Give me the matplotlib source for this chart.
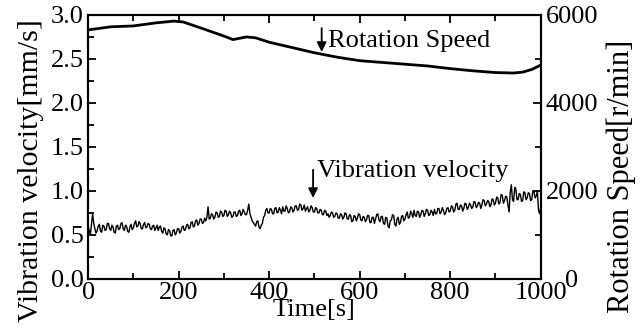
import numpy as np
import matplotlib
matplotlib.use("Agg")
import matplotlib.pyplot as plt
from matplotlib.ticker import MultipleLocator

plt.rcParams["font.family"] = ["Liberation Serif", "DejaVu Serif"]

# rotation speed [r/min]
speed_t = [0, 50, 100, 150, 190, 210, 250, 300, 320, 350, 370, 400, 450, 500,
           550, 600, 650, 700, 750, 800, 850, 900, 940, 960, 980, 1000]
speed = [5660, 5730, 5750, 5820, 5860, 5840, 5700, 5520, 5440, 5500, 5480, 5380,
         5260, 5140, 5040, 4960, 4920, 4880, 4840, 4780, 4730, 4690, 4680, 4700,
         4760, 4860]

# vibration velocity [mm/s], one reading every 2.5 s
vib_t = np.arange(0, 1000.1, 2.5)
vib = [
    0.60, 0.55, 0.50, 0.62, 0.74, 0.63, 0.57, 0.52, 0.55, 0.60, 0.62, 0.54, 0.53, 0.61, 0.60, 0.55, 0.56, 0.63, 0.63, 0.57,
    0.55, 0.61, 0.59, 0.53, 0.52, 0.60, 0.61, 0.56, 0.57, 0.63, 0.64, 0.57, 0.55, 0.61, 0.60, 0.54, 0.53, 0.59, 0.62, 0.56,
    0.58, 0.63, 0.66, 0.59, 0.60, 0.65, 0.63, 0.57, 0.57, 0.62, 0.64, 0.58, 0.59, 0.63, 0.62, 0.57, 0.56, 0.60, 0.61, 0.55,
    0.58, 0.61, 0.55, 0.59, 0.60, 0.54, 0.52, 0.58, 0.57, 0.51, 0.50, 0.56, 0.55, 0.49, 0.49, 0.55, 0.56, 0.50, 0.52, 0.57,
    0.57, 0.52, 0.54, 0.59, 0.60, 0.55, 0.56, 0.61, 0.62, 0.57, 0.58, 0.64, 0.65, 0.59, 0.60, 0.66, 0.67, 0.61, 0.63, 0.68,
    0.68, 0.63, 0.64, 0.69, 0.66, 0.70, 0.82, 0.68, 0.69, 0.74, 0.73, 0.68, 0.70, 0.76, 0.75, 0.70, 0.71, 0.77, 0.76, 0.71,
    0.72, 0.78, 0.77, 0.71, 0.73, 0.77, 0.75, 0.70, 0.71, 0.76, 0.76, 0.71, 0.72, 0.77, 0.78, 0.72, 0.74, 0.79, 0.76, 0.73,
    0.73, 0.78, 0.85, 0.74, 0.70, 0.66, 0.64, 0.62, 0.60, 0.65, 0.66, 0.59, 0.57, 0.61, 0.63, 0.70, 0.72, 0.78, 0.80, 0.75,
    0.75, 0.80, 0.79, 0.74, 0.74, 0.80, 0.81, 0.75, 0.76, 0.81, 0.78, 0.74, 0.82, 0.77, 0.77, 0.83, 0.80, 0.75, 0.76, 0.82,
    0.81, 0.76, 0.78, 0.83, 0.83, 0.78, 0.79, 0.85, 0.84, 0.78, 0.80, 0.84, 0.77, 0.80, 0.82, 0.76, 0.78, 0.83, 0.81, 0.76,
    0.76, 0.81, 0.80, 0.75, 0.75, 0.79, 0.78, 0.73, 0.73, 0.78, 0.77, 0.72, 0.74, 0.70, 0.72, 0.76, 0.75, 0.70, 0.71, 0.75,
    0.74, 0.69, 0.69, 0.74, 0.73, 0.68, 0.70, 0.75, 0.74, 0.68, 0.68, 0.73, 0.72, 0.65, 0.66, 0.72, 0.71, 0.66, 0.69, 0.74,
    0.73, 0.67, 0.66, 0.71, 0.70, 0.65, 0.67, 0.72, 0.72, 0.64, 0.64, 0.70, 0.70, 0.63, 0.68, 0.73, 0.74, 0.67, 0.65, 0.71,
    0.71, 0.63, 0.62, 0.70, 0.69, 0.60, 0.58, 0.66, 0.67, 0.73, 0.72, 0.62, 0.60, 0.68, 0.70, 0.62, 0.64, 0.71, 0.72, 0.66,
    0.68, 0.73, 0.76, 0.69, 0.70, 0.77, 0.74, 0.70, 0.78, 0.72, 0.71, 0.77, 0.76, 0.70, 0.73, 0.78, 0.77, 0.71, 0.74, 0.79,
    0.78, 0.72, 0.73, 0.78, 0.76, 0.72, 0.79, 0.74, 0.74, 0.80, 0.80, 0.74, 0.76, 0.81, 0.78, 0.73, 0.75, 0.80, 0.81, 0.76,
    0.77, 0.83, 0.82, 0.76, 0.78, 0.85, 0.86, 0.79, 0.79, 0.84, 0.83, 0.77, 0.80, 0.86, 0.85, 0.79, 0.81, 0.86, 0.84, 0.80,
    0.82, 0.88, 0.87, 0.81, 0.83, 0.87, 0.86, 0.80, 0.84, 0.90, 0.89, 0.83, 0.85, 0.89, 0.88, 0.82, 0.84, 0.91, 0.90, 0.84,
    0.86, 0.93, 0.92, 0.85, 0.87, 0.96, 0.95, 0.86, 0.89, 0.94, 0.93, 0.84, 0.76, 0.98, 1.07, 0.90, 0.88, 1.04, 1.02, 0.90,
    0.90, 0.97, 0.96, 0.88, 0.89, 0.99, 0.98, 0.90, 0.92, 0.98, 0.97, 0.89, 0.90, 1.00, 0.99, 0.92, 0.94, 1.00, 0.78, 0.74,
    0.82,
]

fig = plt.figure(figsize=(6.43, 3.32), dpi=100)
ax = fig.add_axes([0.137, 0.160, 0.704, 0.795])
ax2 = ax.twinx()

ax.plot(vib_t, vib, color="black", linewidth=1.0)
ax2.plot(speed_t, speed, color="black", linewidth=2.0)

ax.set_xlim(0, 1000)
ax.set_ylim(0, 3.0)
ax2.set_ylim(0, 6000)

ax.xaxis.set_major_locator(MultipleLocator(200))
ax.xaxis.set_minor_locator(MultipleLocator(100))
ax.yaxis.set_major_locator(MultipleLocator(0.5))
ax.yaxis.set_minor_locator(MultipleLocator(0.25))
ax.yaxis.set_major_formatter(lambda v, p: f"{v:.1f}")
ax2.yaxis.set_major_locator(MultipleLocator(2000))
ax2.yaxis.set_minor_locator(MultipleLocator(1000))

fs = 19
ax.tick_params(which="both", direction="in", top=True, right=False, labelsize=fs, width=1.3)
ax.tick_params(which="major", length=6, pad=3)
ax.tick_params(which="minor", length=4)
ax2.tick_params(which="both", direction="in", labelsize=fs, width=1.3)
ax2.tick_params(which="major", length=6, pad=22.5)
ax2.tick_params(which="minor", length=4)
ax.tick_params(axis="x", pad=2)
# right-hand tick labels are centred in the original
for lab in ax2.get_yticklabels():
    lab.set_horizontalalignment("center")

for a in (ax, ax2):
    for s in a.spines.values():
        s.set_linewidth(1.5)

ax.set_xlabel("Time[s]", fontsize=fs, labelpad=-3)
ax.set_ylabel("Vibration velocity[mm/s]", fontsize=21.5)
ax.yaxis.set_label_coords(-0.097, 0.41)
ax2.set_ylabel("Rotation Speed[r/min]", fontsize=22)
ax2.yaxis.set_label_coords(1.146, 0.39)

ax.annotate("", xy=(516, 2.58), xytext=(516, 2.85),
            arrowprops=dict(arrowstyle="-|>", color="black", lw=1.3,
                            mutation_scale=14, shrinkA=0, shrinkB=0))
ax.text(530, 2.64, "Rotation Speed", fontsize=fs, va="baseline", ha="left")

ax.annotate("", xy=(497, 0.92), xytext=(497, 1.24),
            arrowprops=dict(arrowstyle="-|>", color="black", lw=1.3,
                            mutation_scale=14, shrinkA=0, shrinkB=0))
ax.text(505, 1.16, "Vibration velocity", fontsize=fs, va="baseline", ha="left")

fig.savefig("out.png", dpi=100)
